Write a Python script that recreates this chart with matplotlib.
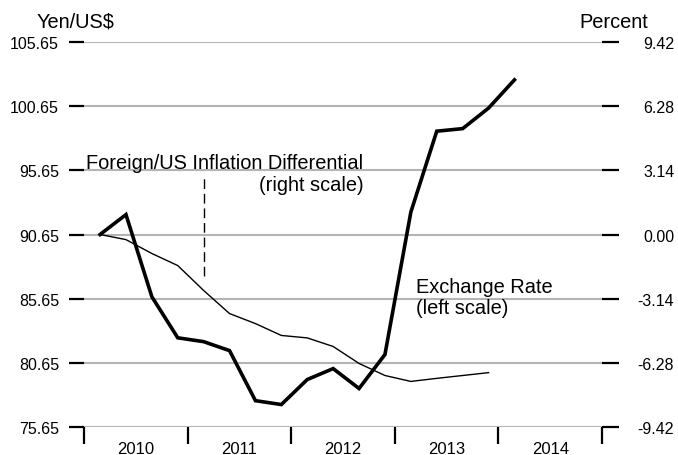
import matplotlib
matplotlib.use("Agg")
import matplotlib.pyplot as plt

plt.rcParams['font.family'] = ['Liberation Sans', 'DejaVu Sans']

# quarterly observations
quarters = ["2010Q1", "2010Q2", "2010Q3", "2010Q4",
            "2011Q1", "2011Q2", "2011Q3", "2011Q4",
            "2012Q1", "2012Q2", "2012Q3", "2012Q4",
            "2013Q1", "2013Q2", "2013Q3", "2013Q4",
            "2014Q1"]

# Yen per US$ (left scale)
exchange_rate = [90.65, 92.2, 85.8, 82.6, 82.3, 81.6, 77.7, 77.4, 79.35,
                 80.2, 78.65, 81.3, 92.4, 98.7, 98.9, 100.5, 102.7]

# Foreign/US inflation differential, percent (right scale)
inflation_diff = [0.00, -0.25, -0.93, -1.52, -2.74, -3.87, -4.36, -4.94,
                  -5.06, -5.48, -6.31, -6.90, -7.19, -7.04, -6.90, -6.76]

left_ticks = [75.65, 80.65, 85.65, 90.65, 95.65, 100.65, 105.65]
right_ticks = [-9.42, -6.28, -3.14, 0.00, 3.14, 6.28, 9.42]
years = [2010, 2011, 2012, 2013, 2014]


def qpos(q):
    return int(q[:4]) + (int(q[5]) - 1) * 0.25 + 0.155


xs = [qpos(q) for q in quarters]

fig = plt.figure(figsize=(6.78, 4.56), dpi=100)
ax = fig.add_axes([84 / 678, 1 - 428 / 456, 518 / 678, 385 / 456])
ax2 = ax.twinx()

ax.set_xlim(2010, 2015)
ax.set_ylim(75.65, 105.65)
ax2.set_ylim(-9.42, 9.42)

for a in (ax, ax2):
    for s in a.spines.values():
        s.set_visible(False)

for v in left_ticks:
    ax.axhline(v, color='#b4b4b4', lw=1.5, zorder=1)

ax.plot(xs, exchange_rate, color='black', lw=2.6, solid_joinstyle='miter', zorder=3)
ax2.plot(xs[:len(inflation_diff)], inflation_diff, color='black', lw=1.0, zorder=3)

ax.set_yticks(left_ticks)
ax.set_yticklabels([f"{v:.2f}" for v in left_ticks])
ax.tick_params(axis='y', length=11, width=1.6, pad=7, labelsize=11.5, color='black')

ax2.set_yticks(right_ticks)
ax2.set_yticklabels([f"{v:.2f}" for v in right_ticks])
ax2.tick_params(axis='y', length=12, width=1.6, pad=40, labelsize=11.5, color='black')
for t in ax2.get_yticklabels():
    t.set_horizontalalignment('right')

ax.set_xticks([y for y in years] + [2015])
ax.set_xticklabels([])
ax.set_xticks([y + 0.5 for y in years], minor=True)
ax.set_xticklabels([str(y) for y in years], minor=True)
ax.tick_params(axis='x', which='major', direction='out', length=12.5, width=1.6, color='black')
ax.tick_params(axis='x', which='minor', length=0, pad=10, labelsize=12)

fig.text(37 / 678, 1 - 22 / 456, "Yen/US$", fontsize=14.4, va='center', ha='left')
fig.text(648 / 678, 1 - 22 / 456, "Percent", fontsize=14.4, va='center', ha='right')

ax.text(2010.02, 95.85, "Foreign/US Inflation Differential", fontsize=14.4,
        ha='left', va='baseline')
ax.text(2012.7, 94.55, "(right scale)", fontsize=14.4, ha='right', va='center')
ax.plot([2011.155, 2011.155], [87.4, 95.2], color='black', lw=1.0,
        dashes=(7, 3.5), zorder=3)

ax.text(2013.2, 85.78, "Exchange Rate\n(left scale)", fontsize=14.4,
        ha='left', va='center', linespacing=1.15)

fig.savefig("out.png", dpi=100)
